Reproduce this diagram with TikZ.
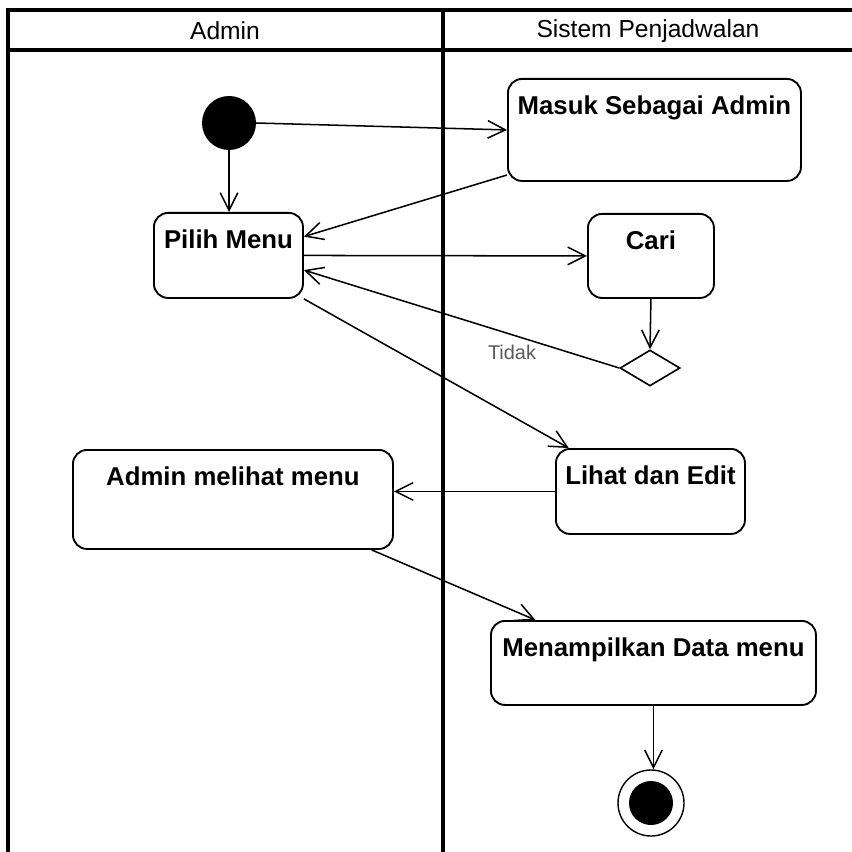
\documentclass[tikz,border=0pt]{standalone}
\usepackage{fontspec}
\setmainfont{Liberation Sans}
\usetikzlibrary{arrows.meta,shapes.geometric}

\begin{document}
\begin{tikzpicture}[x=0.03cm, y=-0.03cm,
    aktivitas/.style={rectangle, rounded corners=12pt, draw=black, line width=1.6pt, anchor=north west, inner ysep=0pt, text height=1.08cm, font=\fontsize{22}{26}\selectfont\bfseries},
    keputusan/.style={diamond, draw=black, line width=1.4pt, minimum width=1.8cm, minimum height=1.08cm, inner sep=0pt},
    awal/.style={circle, fill=black, minimum size=1.62cm, inner sep=0pt},
    akhir/.style={circle, draw=black, line width=1.2pt, minimum size=1.98cm, inner sep=0pt, path picture={\fill[black] (path picture bounding box.center) circle (0.66cm);}},
    panah/.style={line width=1.3pt, -{Straight Barb[length=15pt,width=15pt,line width=1.3pt]}},
    lajur/.style={line width=2.8pt},
    judul/.style={font=\fontsize{21}{25}\selectfont},
    tidak/.style={font=\fontsize{17}{20}\selectfont, text=black!65}
  ]
    \useasboundingbox (0,0) rectangle (852,852);

    \draw[lajur] (8,852) -- (8,10) -- (852,10);
    \draw[lajur] (8,50) -- (852,50);
    \draw[lajur] (443,10) -- (443,852);

    \node[judul] (hdrAdmin) at (225,31) {Admin};
    \node[judul] (hdrSistem) at (648,31) {Sistem Penjadwalan};

    \node[awal] (mulai) at (229,123) {};
    \node[aktivitas, minimum width=8.79cm, text depth=1.98cm] (masuk) at (507,78) {Masuk Sebagai Admin};
    \node[aktivitas, minimum width=4.47cm, text depth=1.47cm] (pilih) at (153,212) {Pilih Menu};
    \node[aktivitas, minimum width=3.78cm, text depth=1.44cm] (cari) at (587,213) {Cari};
    \node[keputusan] (cek) at (650,368) {};
    \node[aktivitas, minimum width=5.67cm, text depth=1.47cm] (lihat) at (555,448) {Lihat dan Edit};
    \node[aktivitas, minimum width=9.6cm, text depth=1.89cm] (melihat) at (72,449) {Admin melihat menu};
    \node[aktivitas, minimum width=9.75cm, text depth=1.44cm] (tampil) at (490,620) {Menampilkan Data menu};
    \node[akhir] (selesai) at (651,803) {};

    \draw[panah] (mulai.east) -- (masuk.west);
    \draw[panah] (mulai.south) -- (mulai.south |- pilih.north);
    \draw[panah] (masuk.197) -- (pilih.14);
    \draw[panah] (pilih.east) -- (cari.west);
    \draw[panah] (cari.south) -- (cek.north);
    \draw[panah] (cek.west) -- node[tidak, pos=0.34, below=5pt] (lblTidak) {Tidak} (pilih.349);
    \draw[panah] (pilih.south east) -- (lihat.152);
    \draw[panah] (lihat.west) -- (lihat.west -| melihat.east);
    \draw[panah] (melihat.340) -- (tampil.160);
    \draw[panah] (tampil.south) -- (tampil.south |- selesai.north);
\end{tikzpicture}
\end{document}
